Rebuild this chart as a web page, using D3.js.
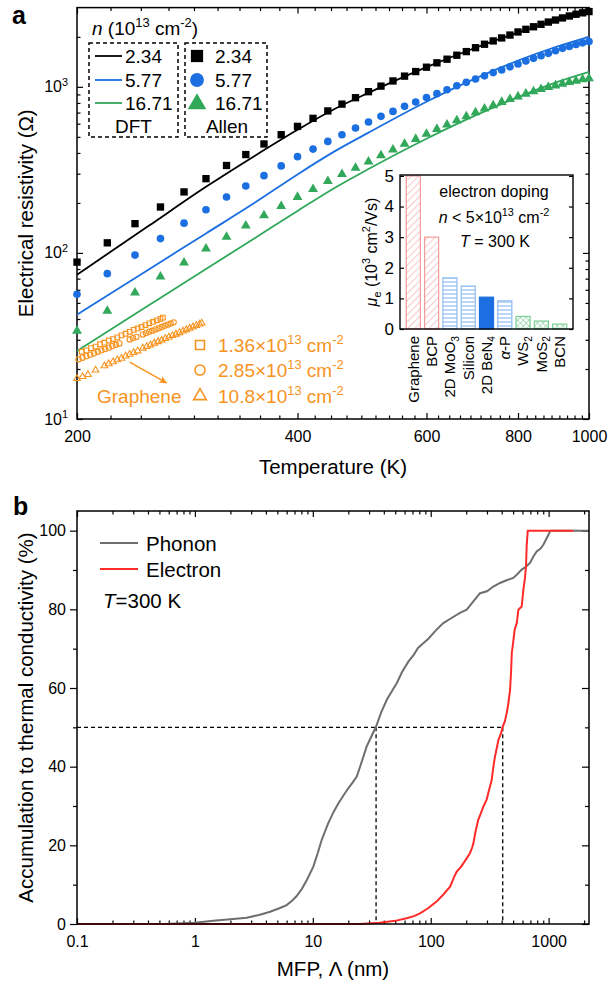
<!DOCTYPE html>
<html lang="en">
<head>
<meta charset="utf-8">
<title>Resistivity and MFP accumulation</title>
<script src="https://cdn.jsdelivr.net/npm/d3@7"></script>
<style>
  body { margin: 0; background: #fff; }
  svg { font-family: "Liberation Sans", Arial, sans-serif; }
</style>
</head>
<body>
<svg id="chart" width="608" height="988"></svg>
<script>
// ---------- panel a : resistivity vs temperature ----------
const densities = ["2.34", "5.77", "16.71"];
const temps = [200,220,240,260,280,300,320,340,360,380,400,420,440,460,480,500,520,540,560,580,
               600,620,640,660,680,700,720,740,760,780,800,820,840,860,880,900,920,940,960,980,1000];
const allen234 = [88,115,150,189,233,280,336,391,453,515,578,646,716,787,860,935,1010,1085,1160,1236,
                  1313,1395,1467,1550,1630,1720,1805,1890,1970,2050,2140,2220,2300,2380,2455,2525,2600,2670,2735,2790,2840];
const allen577 = [56.4,75,97,122,151,182,217,253,292,334,380,422,469,515,565,614,664,711,763,810,
                  863,910,960,1015,1065,1115,1165,1218,1265,1320,1372,1430,1485,1540,1592,1650,1705,1750,1800,1840,1875];
const allen1671 = [33.9,44.7,57.7,71.9,87.3,106,125,146,168,191,217,242,270,298,325,354,386,418,453,485,
                   520,557,591,628,664,702,738,773,810,844,874,908,938,968,995,1018,1042,1067,1087,1108,1125];

const dftTemps = [200,250,300,350,400,450,500,600,700,800,900,1000];
const dft234  = [74,144.5,250,385,551,738,920,1313,1719,2123,2510,2870];
const dft577  = [42.5,79,131,201,297,410,530,813,1124,1439,1737,2002];
const dft1671 = [25.7,48,80,123,179,247,320,487,673,867,1060,1230];

// graphene reference data (open orange symbols)
const grapheneDensities = ["1.36", "2.85", "10.8"];
const gr136T = [203,206,209,212,215,218,221,224,227,230,233,236,239,242,245,248,251,254,257,260,262];
const gr136  = [25.4,25.9,26.7,27.3,28.2,28.8,29.7,30.3,31.0,31.9,32.6,33.5,34.4,35.1,35.8,36.8,37.7,38.4,39.3,40.1,40.8];
const gr285T = [201,203.5,206,208.5,211,213.5,216,218.5,221,223.5,226,228.5,236,238.5,241,246,248.5,251,253.5,256,258.5,261,263.5,266,268.5,271];
const gr285  = [22.9,23.4,23.9,24.4,24.9,25.4,25.9,26.4,26.9,27.5,28.0,28.5,30.1,30.7,31.2,32.3,32.9,33.5,34.0,34.6,35.2,35.8,36.4,37.0,37.6,38.2];
const gr108T = [200,203.5,207,212,218,221,224,227,230,233,236,239,242,246,249,252,255,258,261,264,267,270,273,276,279,282,285,288,291,294,296];
const gr108  = [17.5,18.0,18.5,19.7,20.9,21.5,22.1,22.7,23.2,23.9,24.5,25.1,25.7,26.7,27.3,27.9,28.6,29.2,29.8,30.5,31.1,31.8,32.4,33.1,33.8,34.5,35.2,35.9,36.6,37.3,37.8];

const tempTicks = [200, 400, 600, 800, 1000];
const resTicks = [10, 100, 1000];

// inset : electron mobility
const materials = ["Graphene", "BCP", "2D MoO3", "Silicon", "2D BeN4", "α-P", "WS2", "MoS2", "BCN"];
const materialLabels = ["Graphene", "BCP", "2D MoO_{3}", "Silicon", "2D BeN_{4}", "*α*-P", "WS_{2}", "MoS_{2}", "BCN"];
const mobility = [5.0, 3.0, 1.67, 1.40, 1.04, 0.92, 0.41, 0.26, 0.16];
const mobilityTicks = [0, 1, 2, 3, 4, 5];

// ---------- panel b : accumulation vs MFP ----------
const phononMfp = [0.55,1.0,1.43,2.0,2.75,3.5,4.34,5.2,6.0,6.7,7.3,8.1,8.9,10.1,11.0,11.9,13.5,15.0,16.5,18.3,20.0,21.8,23.6,
                   25.5,28.6,31.5,34.4,38.0,42.4,48.2,51.5,57.0,64.6,72.0,78.0,86.5,96.0,110,128,150,177,202,230,262,300,
                   340,387,440,502,545,591,640,695,745,792,850,902,960,1028,1060,2200];
const phononAcc = [0,0.3,0.8,1.2,1.6,2.3,3.1,4.0,4.8,6.0,7.1,9.0,11.2,14.6,18.0,21.4,25.6,28.5,30.7,32.8,34.5,36.0,37.5,
                   40.5,45.1,47.8,50.2,53.8,57.0,59.8,61.2,64.0,66.7,68.5,70.2,71.4,72.6,74.6,76.5,77.8,79.1,79.9,82.0,84.1,84.6,
                   85.8,86.7,87.4,88.0,89.0,90.1,90.8,91.8,93.5,94.7,95.4,96.4,98.0,99.8,100,100];
const electronMfp = [0.1,25,36.9,50,62.5,72,81.1,95,112,128,146,158,166,178,189,200,215,225,230,240,253,265,279,298,312,329,
                     340,351,362,375,395,408,425,441,455,471,480,487,495,502,515,537,554,591,611,630,643,651,665,1620];
const electronAcc = [0,0,0.3,0.8,1.45,2.0,2.7,4.0,5.7,7.5,9.5,12.0,13.3,14.3,15.4,16.5,18.0,19.5,20.5,23.5,26.5,28.0,29.8,31.6,34.0,36.6,
                     40.0,42.6,44.5,46.8,48.5,50.2,51.5,53.6,56.0,59.5,64.0,68.9,70.5,72.0,74.8,76.5,79.9,80.7,85.0,88.0,90.9,96.0,100,100];
const halfMfp = [34.4, 408];
const mfpTicks = [0.1, 1, 10, 100, 1000];
const accTicks = [0, 20, 40, 60, 80, 100];

// ---------- drawing ----------
const svg = d3.select("#chart");
const blue = "#1b6fe0", green = "#31a85a", orange = "#f7931e";
const seriesColor = ["#000", blue, green];

// text with ^{sup}, _{sub}, *italic*
function rich(sel, str, size) {
  const parts = str.split(/(\^\{[^}]*\}|_\{[^}]*\}|\*[^*]*\*)/).filter(p => p.length);
  let shift = 0;
  parts.forEach(p => {
    const t = sel.append("tspan");
    let target = 0;
    if (p[0] === "^") { t.text(p.slice(2, -1)).attr("font-size", size * 0.68); target = -size * 0.42; }
    else if (p[0] === "_") { t.text(p.slice(2, -1)).attr("font-size", size * 0.68); target = size * 0.22; }
    else if (p[0] === "*") { t.text(p.slice(1, -1)).attr("font-style", "italic"); }
    else t.text(p);
    if (target !== shift) t.attr("dy", target - shift);
    shift = target;
  });
  return sel;
}

function addText(x, y, str, size, opts = {}) {
  const t = svg.append("text").attr("x", x).attr("y", y).attr("font-size", size)
    .attr("fill", opts.fill || "#000").attr("text-anchor", opts.anchor || "start");
  if (opts.weight) t.attr("font-weight", opts.weight);
  if (opts.rotate) t.attr("x", 0).attr("y", 0).attr("transform", `translate(${x},${y}) rotate(${opts.rotate})`);
  return rich(t, str, size);
}

function axisLayer(gen, transform, fontSize) {
  const g = svg.append("g").attr("transform", transform).call(gen);
  g.attr("font-size", fontSize || 16).attr("font-family", null);
  g.select(".domain").remove();
  g.selectAll(".tick line").attr("stroke", "#000").attr("stroke-width", 1.2);
  g.selectAll(".tick text").attr("fill", "#000");
  return g;
}

// ===== panel a =====
const xA = d3.scaleLog().domain([200, 1000]).range([77, 589]);
const yA = d3.scaleLog().domain([10, 3000]).range([419, 7.6]);

const xMinorA = [];
for (let k = 1; k < 36; k++) if (k % 9) xMinorA.push(200 + k * 200 / 9);
const yMinorA = [];
[10, 100, 1000].forEach(d => { for (let m = 2; m <= 9; m++) if (d * m < 3000) yMinorA.push(d * m); });

axisLayer(d3.axisBottom(xA).tickValues(tempTicks).tickFormat(d3.format("d")).tickSizeInner(-6).tickSizeOuter(0).tickPadding(12), `translate(0,${yA(10)})`);
axisLayer(d3.axisBottom(xA).tickValues(xMinorA).tickFormat("").tickSizeInner(-3.5).tickSizeOuter(0), `translate(0,${yA(10)})`);
axisLayer(d3.axisTop(xA).tickValues(tempTicks).tickFormat("").tickSizeInner(-6).tickSizeOuter(0), `translate(0,${yA(3000)})`);
axisLayer(d3.axisTop(xA).tickValues(xMinorA).tickFormat("").tickSizeInner(-3.5).tickSizeOuter(0), `translate(0,${yA(3000)})`);
axisLayer(d3.axisLeft(yA).tickValues(resTicks).tickFormat("").tickSizeInner(-6).tickSizeOuter(0), `translate(${xA(200)},0)`);
axisLayer(d3.axisLeft(yA).tickValues(yMinorA).tickFormat("").tickSizeInner(-3.5).tickSizeOuter(0), `translate(${xA(200)},0)`);
axisLayer(d3.axisRight(yA).tickValues(resTicks).tickFormat("").tickSizeInner(-6).tickSizeOuter(0), `translate(${xA(1000)},0)`);
axisLayer(d3.axisRight(yA).tickValues(yMinorA).tickFormat("").tickSizeInner(-3.5).tickSizeOuter(0), `translate(${xA(1000)},0)`);
resTicks.forEach(v => addText(xA(200) - 9, yA(v) + 5.5, "10^{" + Math.log10(v) + "}", 16, { anchor: "end" }));

svg.append("rect").attr("x", xA(200)).attr("y", yA(3000)).attr("width", xA(1000) - xA(200))
  .attr("height", yA(10) - yA(3000)).attr("fill", "none").attr("stroke", "#000").attr("stroke-width", 1.5);

addText(12, 24, "a", 25, { weight: "bold" });
addText(33, (yA(10) + yA(3000)) / 2, "Electrical resistivity (Ω)", 20.5, { anchor: "middle", rotate: -90 });
addText((xA(200) + xA(1000)) / 2, 474, "Temperature (K)", 20.5, { anchor: "middle" });

// DFT lines
const lineA = d3.line().x(d => xA(d[0])).y(d => yA(d[1])).curve(d3.curveMonotoneX);
[dft234, dft577, dft1671].forEach((vals, i) => {
  svg.append("path").datum(dftTemps.map((t, j) => [t, vals[j]]))
    .attr("d", lineA).attr("fill", "none").attr("stroke", seriesColor[i]).attr("stroke-width", 1.8);
});

// Allen symbols
const symTypes = [d3.symbolSquare, d3.symbolCircle, d3.symbolTriangle];
const symSizes = [54, 46, 42];
[allen234, allen577, allen1671].forEach((vals, i) => {
  svg.append("g").selectAll("path").data(temps.map((t, j) => [t, vals[j]])).join("path")
    .attr("transform", d => `translate(${xA(d[0])},${yA(d[1])})`)
    .attr("d", d3.symbol(symTypes[i], symSizes[i])).attr("fill", seriesColor[i]);
});

// graphene open symbols
const grSets = [[gr136T, gr136], [gr285T, gr285], [gr108T, gr108]];
const grSizes = [22, 22, 19];
grSets.forEach((s, i) => {
  svg.append("g").selectAll("path").data(s[0].map((t, j) => [t, s[1][j]])).join("path")
    .attr("transform", d => `translate(${xA(d[0])},${yA(d[1])})`)
    .attr("d", d3.symbol(symTypes[i], grSizes[i])).attr("fill", "none").attr("stroke", orange).attr("stroke-width", 1.1);
});

// legend (DFT / Allen)
addText(92, 35, "*n* (10^{13} cm^{-2})", 19);
const dash = "4,3";
svg.append("rect").attr("x", 89).attr("y", 43).attr("width", 89).attr("height", 94)
  .attr("fill", "none").attr("stroke", "#000").attr("stroke-width", 1.5).attr("stroke-dasharray", dash);
svg.append("rect").attr("x", 185).attr("y", 43).attr("width", 82).attr("height", 94)
  .attr("fill", "none").attr("stroke", "#000").attr("stroke-width", 1.5).attr("stroke-dasharray", dash);
const legRows = [56, 80, 103];
densities.forEach((n, i) => {
  svg.append("line").attr("x1", 95).attr("x2", 122).attr("y1", legRows[i]).attr("y2", legRows[i])
    .attr("stroke", seriesColor[i]).attr("stroke-width", 1.8);
  addText(125, legRows[i] + 7, n, 19);
  svg.append("path").attr("transform", `translate(197,${legRows[i] + (i === 2 ? 1 : 0)})`)
    .attr("d", d3.symbol(symTypes[i], 150)).attr("fill", seriesColor[i]);
  addText(215, legRows[i] + 7, n, 19);
});
addText(133.5, 132.5, "DFT", 19, { anchor: "middle" });
addText(227, 132.5, "Allen", 19, { anchor: "middle" });

// graphene legend + arrow
const grLegRows = [345, 370, 396];
grapheneDensities.forEach((n, i) => {
  svg.append("path").attr("transform", `translate(200,${grLegRows[i]})`)
    .attr("d", d3.symbol(symTypes[i], [80, 80, 70][i])).attr("fill", "none").attr("stroke", orange).attr("stroke-width", 1.6);
  addText(218, grLegRows[i] + 7, n + "×10^{13} cm^{-2}", 19, { fill: orange });
});
addText(97, 403, "Graphene", 19, { fill: orange });
const defs = svg.append("defs");
defs.append("marker").attr("id", "arrowO").attr("viewBox", "0 0 10 10").attr("refX", 9).attr("refY", 5)
  .attr("markerWidth", 11).attr("markerHeight", 8).attr("markerUnits", "userSpaceOnUse").attr("orient", "auto")
  .append("path").attr("d", "M0,0.5 L10,5 L0,9.5 L2.5,5 z").attr("fill", orange);
svg.append("line").attr("x1", xA(236)).attr("y1", yA(22)).attr("x2", xA(265)).attr("y2", yA(16.5))
  .attr("stroke", orange).attr("stroke-width", 1.5).attr("marker-end", "url(#arrowO)");

// ===== inset =====
const xI = d3.scaleBand().domain(materials).range([400, 573]).paddingInner(0.165).paddingOuter(0.31);
const yI = d3.scaleLinear().domain([0, 5.03]).range([329, 175]);

const pat = (id, size, rot) => defs.append("pattern").attr("id", id).attr("patternUnits", "userSpaceOnUse")
  .attr("width", size).attr("height", size).attr("patternTransform", rot ? `rotate(${rot})` : null);
pat("hatchRed", 5, 45).append("line").attr("x1", 0).attr("y1", 0).attr("x2", 0).attr("y2", 5)
  .attr("stroke", "#f4a3a3").attr("stroke-width", 1.2);
pat("hatchBlue", 4, 0).append("line").attr("x1", 0).attr("y1", 2).attr("x2", 4).attr("y2", 2)
  .attr("stroke", "#86b6ef").attr("stroke-width", 1.1);
const pg = pat("hatchGreen", 4, 45);
pg.append("line").attr("x1", 0).attr("y1", 0).attr("x2", 0).attr("y2", 4).attr("stroke", "#69c386").attr("stroke-width", 1);
pg.append("line").attr("x1", 0).attr("y1", 0).attr("x2", 4).attr("y2", 0).attr("stroke", "#69c386").attr("stroke-width", 1);

const barStyle = {
  "Graphene": ["url(#hatchRed)", "#f49a9a"], "BCP": ["url(#hatchRed)", "#f49a9a"],
  "2D MoO3": ["url(#hatchBlue)", "#8dbcf2"], "Silicon": ["url(#hatchBlue)", "#8dbcf2"],
  "2D BeN4": [blue, blue], "α-P": ["url(#hatchBlue)", "#8dbcf2"],
  "WS2": ["url(#hatchGreen)", "#7ccf94"], "MoS2": ["url(#hatchGreen)", "#7ccf94"], "BCN": ["url(#hatchGreen)", "#7ccf94"]
};

svg.append("rect").attr("x", 400).attr("y", yI(5.03)).attr("width", 173).attr("height", yI(0) - yI(5.03)).attr("fill", "#fff");
svg.append("g").selectAll("rect").data(materials.map((m, i) => [m, mobility[i]])).join("rect")
  .attr("x", d => xI(d[0]) + 0.6).attr("width", xI.bandwidth() - 1.2)
  .attr("y", d => yI(d[1])).attr("height", d => yI(0) - yI(d[1]))
  .attr("fill", d => barStyle[d[0]][0]).attr("stroke", d => barStyle[d[0]][1]).attr("stroke-width", 1.2);

axisLayer(d3.axisLeft(yI).tickValues(mobilityTicks).tickFormat(d3.format("d")).tickSizeInner(-4).tickSizeOuter(0).tickPadding(6), "translate(400,0)", 17);
axisLayer(d3.axisRight(yI).tickValues(mobilityTicks).tickFormat("").tickSizeInner(-4).tickSizeOuter(0), "translate(573,0)");
svg.append("rect").attr("x", 400).attr("y", yI(5.03)).attr("width", 173).attr("height", yI(0) - yI(5.03))
  .attr("fill", "none").attr("stroke", "#000").attr("stroke-width", 1.4);

materials.forEach((m, i) => {
  addText(xI(m) + xI.bandwidth() / 2 + 5.3, 336, materialLabels[i], 15, { anchor: "end", rotate: -90 });
});
addText(377, 252, "*μ*_{e} (10^{3} cm^{2}/Vs)", 16, { anchor: "middle", rotate: -90 });
addText(494, 197, "electron doping", 16, { anchor: "middle" });
addText(494, 223, "*n* < 5×10^{13} cm^{-2}", 16, { anchor: "middle" });
addText(495, 247, "*T* = 300 K", 16, { anchor: "middle" });

// ===== panel b =====
const xB = d3.scaleLog().domain([0.1, 2200]).range([77, 589]);
const yB = d3.scaleLinear().domain([0, 105]).range([924, 511]);

const xMinorB = [];
[0.1, 1, 10, 100, 1000].forEach(d => { for (let m = 2; m <= 9; m++) if (d * m <= 2200) xMinorB.push(d * m); });
const yMinorB = [10, 30, 50, 70, 90];

axisLayer(d3.axisBottom(xB).tickValues(mfpTicks).tickFormat(d3.format("~g")).tickSizeInner(-6).tickSizeOuter(0).tickPadding(12), `translate(0,${yB(0)})`);
axisLayer(d3.axisBottom(xB).tickValues(xMinorB).tickFormat("").tickSizeInner(-3.5).tickSizeOuter(0), `translate(0,${yB(0)})`);
axisLayer(d3.axisTop(xB).tickValues(mfpTicks).tickFormat("").tickSizeInner(-6).tickSizeOuter(0), `translate(0,${yB(105)})`);
axisLayer(d3.axisTop(xB).tickValues(xMinorB).tickFormat("").tickSizeInner(-3.5).tickSizeOuter(0), `translate(0,${yB(105)})`);
axisLayer(d3.axisLeft(yB).tickValues(accTicks).tickSizeInner(7).tickSizeOuter(0).tickPadding(4), `translate(${xB(0.1)},0)`);
axisLayer(d3.axisLeft(yB).tickValues(yMinorB).tickFormat("").tickSizeInner(4).tickSizeOuter(0), `translate(${xB(0.1)},0)`);
axisLayer(d3.axisRight(yB).tickValues(accTicks).tickFormat("").tickSizeInner(-7).tickSizeOuter(0), `translate(${xB(2200)},0)`);
axisLayer(d3.axisRight(yB).tickValues(yMinorB).tickFormat("").tickSizeInner(-4).tickSizeOuter(0), `translate(${xB(2200)},0)`);

// dashed guides at 50 %
svg.append("line").attr("x1", xB(0.1)).attr("x2", xB(halfMfp[1])).attr("y1", yB(50)).attr("y2", yB(50))
  .attr("stroke", "#000").attr("stroke-width", 1.3).attr("stroke-dasharray", "4,3");
halfMfp.forEach(m => svg.append("line").attr("x1", xB(m)).attr("x2", xB(m)).attr("y1", yB(50)).attr("y2", yB(0))
  .attr("stroke", "#000").attr("stroke-width", 1.3).attr("stroke-dasharray", "4,3"));

const lineB = d3.line().x(d => xB(d[0])).y(d => yB(d[1]));
svg.append("path").datum(phononMfp.map((m, i) => [m, phononAcc[i]])).attr("d", lineB)
  .attr("fill", "none").attr("stroke", "#6e6e6e").attr("stroke-width", 2);
svg.append("path").datum(electronMfp.map((m, i) => [m, electronAcc[i]])).attr("d", lineB)
  .attr("fill", "none").attr("stroke", "#ff2a2a").attr("stroke-width", 2);

svg.append("rect").attr("x", xB(0.1)).attr("y", yB(105)).attr("width", xB(2200) - xB(0.1))
  .attr("height", yB(0) - yB(105)).attr("fill", "none").attr("stroke", "#000").attr("stroke-width", 1.5);

addText(13, 515, "b", 25, { weight: "bold" });
addText(33, (yB(0) + yB(105)) / 2, "Accumulation to thermal conductivity (%)", 20.5, { anchor: "middle", rotate: -90 });
addText((xB(0.1) + xB(2200)) / 2, 976, "MFP, Λ (nm)", 20.5, { anchor: "middle" });

[["Phonon", "#6e6e6e", 543], ["Electron", "#ff2a2a", 569]].forEach(d => {
  svg.append("line").attr("x1", 100).attr("x2", 138).attr("y1", d[2]).attr("y2", d[2]).attr("stroke", d[1]).attr("stroke-width", 2);
  addText(146, d[2] + 7.5, d[0], 20.5);
});
addText(103, 608, "*T*=300 K", 20.5);
</script>
</body>
</html>
